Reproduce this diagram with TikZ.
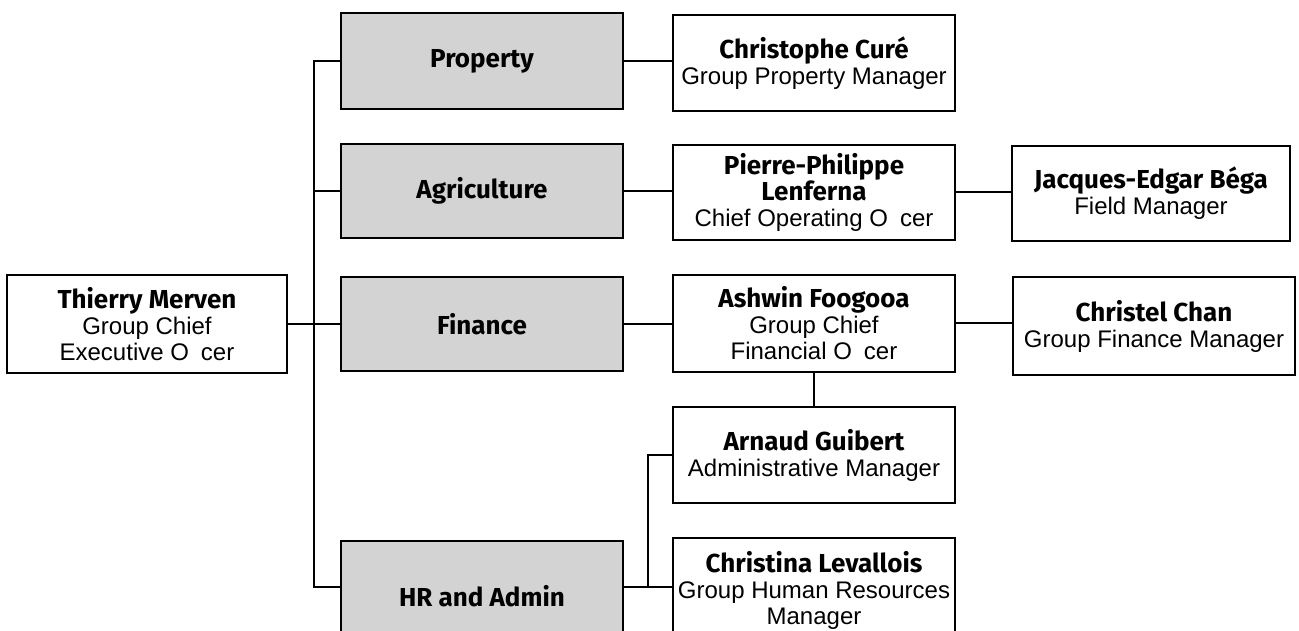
\documentclass[tikz,border=0pt]{standalone}
\usepackage{fontspec}
\setmainfont{Liberation Sans}
\newfontfamily\namefamily{Fira Sans}
\newcommand{\nm}[1]{{\namefamily\bfseries\fontsize{26}{28}\selectfont #1}}
\tikzset{
  base/.style={draw=black, line width=2pt, inner sep=0pt, align=center,
    minimum width=282pt, minimum height=96pt,
    font=\fontsize{24}{26}\selectfont},
  unitbox/.style={base, fill=boxgray},
  personbox/.style={base, fill=white},
  link/.style={draw=black, line width=1.8pt},
}
\definecolor{boxgray}{HTML}{D3D3D3}
\begin{document}
\begin{tikzpicture}[x=1pt,y=-1pt]
\useasboundingbox (0,0) rectangle (1299,630);
\clip (0,0) rectangle (1299,630);
\fill[white] (0,0) rectangle (1299,630);

% units
\node[unitbox] (property) at (482,61) {\nm{Property}};
\node[unitbox, minimum height=94pt] (agri) at (482,191) {\nm{Agriculture}};
\node[unitbox, minimum height=94pt] (finance) at (482,324) {\nm{Finance}};
\node[unitbox, minimum height=110pt] (hr) at (482,596) {\nm{HR and Admin}};

% people
\node[personbox, minimum width=280pt, minimum height=98pt] (thierry) at (147,324)
  {\nm{Thierry Merven}\\Group Chief\\Executive O\kern0.5em cer};
\node[personbox] (christophe) at (814,63)
  {\nm{Christophe Curé}\\Group Property Manager};
\node[personbox, minimum height=95pt] (pierre) at (814,192)
  {\nm{Pierre-Philippe}\\\nm{Lenferna}\\Chief Operating O\kern0.5em cer};
\node[personbox, minimum width=278pt, minimum height=95pt] (jacques) at (1151,193)
  {\nm{Jacques-Edgar Béga}\\Field Manager};
\node[personbox, minimum height=97pt] (ashwin) at (814,323)
  {\nm{Ashwin Foogooa}\\Group Chief\\Financial O\kern0.5em cer};
\node[personbox, minimum height=98pt] (christel) at (1154,326)
  {\nm{Christel Chan}\\Group Finance Manager};
\node[personbox] (arnaud) at (814,455)
  {\nm{Arnaud Guibert}\\Administrative Manager};
\node[personbox, minimum height=104pt] (christina) at (814,590)
  {\nm{Christina Levallois}\\Group Human Resources\\Manager};

% connectors
\coordinate (spinetop) at (314,61);
\coordinate (spinebot) at (314,587);
\coordinate (hrj) at (648,587);

\draw[link] (property.west) -- (spinetop) -- (spinebot) -- (hr.west |- spinebot);
\draw[link] (agri.west) -- (agri.west -| spinetop);
\draw[link] (thierry.east) -- (finance.west);
\draw[link] (property.east) -- (property.east -| christophe.west);
\draw[link] (agri.east) -- (agri.east -| pierre.west);
\draw[link] (pierre.east) -- (pierre.east -| jacques.west);
\draw[link] (finance.east) -- (finance.east -| ashwin.west);
\draw[link] (ashwin.east) -- (ashwin.east -| christel.west);
\draw[link] (ashwin.south) -- (arnaud.north);
\draw[link] (hr.east |- hrj) -- (christina.west |- hrj);
\draw[link] (hrj) |- (arnaud.west);
\end{tikzpicture}
\end{document}
